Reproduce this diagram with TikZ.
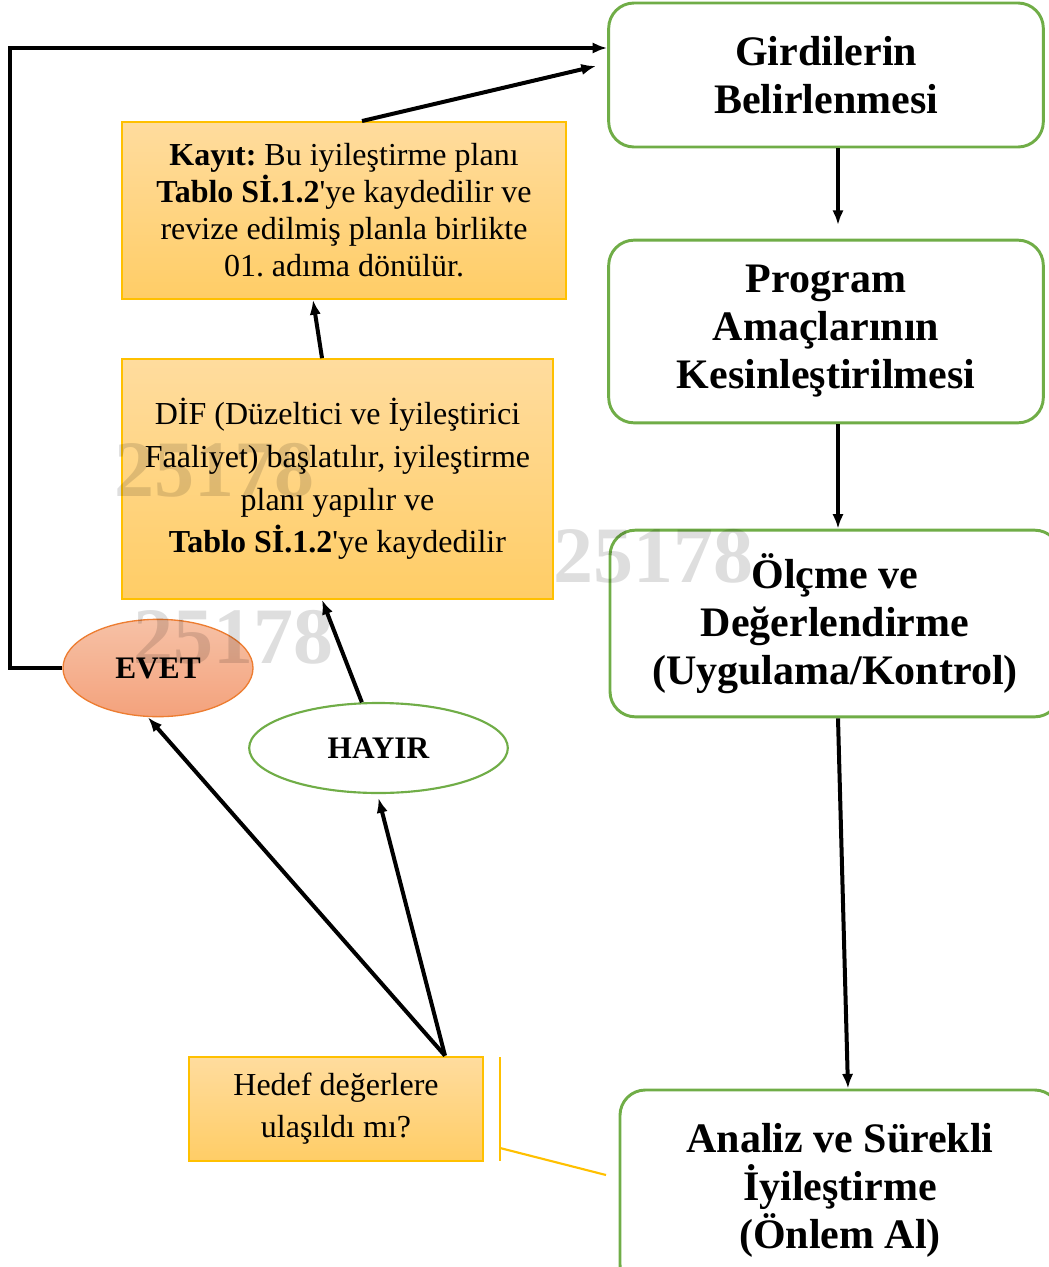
\documentclass[tikz,border=0pt]{standalone}
\usepackage{fontspec}
\setmainfont{Liberation Serif}
\usetikzlibrary{arrows.meta,shapes.geometric}
\frenchspacing

\definecolor{adimyesil}{HTML}{70AD47}
\definecolor{notcizgi}{HTML}{FFC000}
\definecolor{notust}{HTML}{FFDC9E}
\definecolor{notalt}{HTML}{FFCD66}
\definecolor{evetust}{HTML}{F6C1A6}
\definecolor{evetalt}{HTML}{F4A27C}
\definecolor{evetcizgi}{HTML}{ED7D31}

\tikzset{
  adim/.style={draw=adimyesil, line width=2.2pt, rounded corners=19pt, fill=white,
    align=center, inner sep=0pt, font=\fontsize{31.5}{36}\selectfont\bfseries},
  notkutu/.style={draw=notcizgi, line width=1.2pt, top color=notust, bottom color=notalt,
    align=center, inner sep=0pt, font=\fontsize{24}{27.75}\selectfont},
  cevap/.style={ellipse, line width=1.6pt, inner sep=0pt, font=\fontsize{23.5}{28}\selectfont\bfseries},
  ok/.style={-{Latex[length=11pt,width=8.5pt]}, line width=3pt},
  filigran/.style={text=black, text opacity=0.13, font=\fontsize{60}{60}\selectfont\bfseries}
}

\begin{document}
\begin{tikzpicture}[x=0.75pt,y=-0.75pt]
\useasboundingbox (0,0) rectangle (1049,1267);

% sag sutun
\node[adim, minimum width=326pt, minimum height=108pt] (girdi) at (826,75)
  {Girdilerin\\Belirlenmesi};
\node[adim, minimum width=326pt, minimum height=137pt] (program) at (826,331.5)
  {Program\\Amaçlarının\\Kesinleştirilmesi};
\node[adim, minimum width=337.5pt, minimum height=140pt] (olcme) at (835,623.5)
  {Ölçme ve\\Değerlendirme\\(Uygulama/Kontrol)};
\node[adim, minimum width=330pt, minimum height=150pt] (analiz) at (840,1190)
  {Analiz ve Sürekli\\İyileştirme\\(Önlem Al)};

% sol sutun
\node[notkutu, minimum width=333pt, minimum height=133pt] (kayit) at (344,210.5)
  {\textbf{Kayıt:} Bu iyileştirme planı\\
   \textbf{Tablo Sİ.1.2}\textquotesingle ye kaydedilir ve\\
   revize edilmiş planla birlikte\\
   01. adıma dönülür.};
\node[notkutu, minimum width=323pt, minimum height=180pt,
  font=\fontsize{24}{32}\selectfont] (dif) at (337.5,479)
  {DİF (Düzeltici ve İyileştirici\\
   Faaliyet) başlatılır, iyileştirme\\
   planı yapılır ve\\
   \textbf{Tablo Sİ.1.2}\textquotesingle ye kaydedilir};
\node[notkutu, line width=2pt, minimum width=220.5pt, minimum height=78pt,
  font=\fontsize{24}{31.5}\selectfont] (hedef) at (336,1109)
  {Hedef değerlere\\ulaşıldı mı?};

\node[cevap, draw=evetcizgi, line width=1pt, top color=evetust, bottom color=evetalt,
  minimum width=142.5pt, minimum height=73pt] (evet) at (158,668) {EVET};
\node[cevap, draw=adimyesil, fill=white,
  minimum width=194pt, minimum height=67.5pt] (hayir) at (378.5,748) {HAYIR};

% baglantilar
\coordinate (ucbir) at (838,225);
\coordinate (kayitucu) at (596,66);
\coordinate (kose) at (10,48);
\draw[ok] ([xshift=9pt]girdi.south) -- (ucbir);
\draw[ok] ([xshift=9pt]program.south) -- ([xshift=2.25pt]olcme.north);
\draw[ok] ([xshift=2.25pt]olcme.south) -- ([xshift=6pt]analiz.north);
\draw[ok] ([xshift=81.75pt]hedef.north) -- ([xshift=-7.5pt]evet.south);
\draw[ok] ([xshift=81.75pt]hedef.north) -- ([yshift=-3pt]hayir.south);
\draw[ok] (hayir.110) -- ([xshift=-11.6pt]dif.south);
\draw[ok] ([xshift=-11.6pt]dif.north) -- ([xshift=-23.25pt]kayit.south);
\draw[ok] ([xshift=13.5pt]kayit.north) -- (kayitucu);
\draw[ok] (evet.west) -| (kose) -- ([yshift=20.25pt]girdi.west);

% sari cizgi
\coordinate (s1) at (500,1057);
\coordinate (s2) at (500,1161);
\coordinate (s3) at (500,1148);
\coordinate (s4) at (606,1175);
\draw[notcizgi, line width=1.6pt] (s1) -- (s2);
\draw[notcizgi, line width=1.6pt] (s3) -- (s4);

% filigran
\node[filigran] (f1) at (214,470) {25178};
\node[filigran] (f2) at (653,556) {25178};
\node[filigran] (f3) at (233,637) {25178};
\end{tikzpicture}
\end{document}
